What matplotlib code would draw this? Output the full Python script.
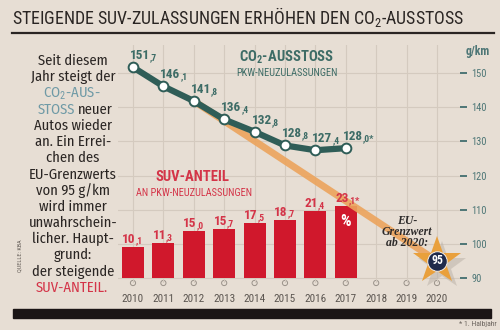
import matplotlib
matplotlib.use("Agg")
import matplotlib.pyplot as plt
from matplotlib import transforms
from matplotlib.lines import Line2D
from matplotlib.patches import Rectangle

# data
years = [2010, 2011, 2012, 2013, 2014, 2015, 2016, 2017]
co2 = [151.7, 146.1, 141.8, 136.4, 132.8, 128.8, 127.4, 128.0]
co2_labels = [("151", ",7"), ("146", ",1"), ("141", ",8"), ("136", ",4"),
              ("132", ",8"), ("128", ",8"), ("127", ",4"), ("128", ",0*")]
suv = [10.1, 11.3, 15.0, 15.7, 17.5, 18.7, 21.4, 23.1]
suv_labels = [("10", ",1"), ("11", ",3"), ("15", ",0"), ("15", ",7"),
              ("17", ",5"), ("18", ",7"), ("21", ",4"), ("23", ",1*")]
axis_years = list(range(2010, 2021))
target_years = [2012, 2020]
target_co2 = [141.8, 95]
eu_year, eu_limit = 2020, 95
gkm_ticks = [150, 140, 130, 120, 110, 100, 90]

left_lines = ["Seit diesem", "Jahr steigt der", "CO$_2$-AUS-", "STOSS neuer",
              "Autos wieder", "an. Ein Errei-", "chen des", "EU-Grenzwerts",
              "von 95 g/km", "wird immer", "unwahrschein-", "licher. Haupt-",
              "grund:", "der steigende", "SUV-ANTEIL."]

BG = "#e7ded4"
INK = "#2a2523"
GRID = "#d4cabf"
TEAL = "#2f5d57"
TEAL_TXT = "#3d6c66"
AXIS_TXT = "#4d7676"
BLUE_TXT = "#6f9aa6"
RED = "#d0182c"
RED_TXT = "#d43448"
ORANGE = "#eca45c"
STAR = "#e9a03c"
NAVY = "#1f2a4b"
COND = "Roboto Condensed"
BODY = "Fira Sans Condensed"

plt.rcParams["mathtext.fontset"] = "custom"
plt.rcParams["mathtext.rm"] = COND
plt.rcParams["mathtext.bf"] = COND + ":bold"
plt.rcParams["font.family"] = [COND, "DejaVu Sans"]

W, H = 500, 330
fig = plt.figure(figsize=(5, 3.3), dpi=100)
fig.patch.set_facecolor(BG)


def fx(x):
    return x / W


def fy(y):
    return 1 - y / H


rect = [fx(118), fy(283), (460 - 118) / W, (283 - 45) / H]
ax = fig.add_axes(rect, zorder=0)
ax.set_facecolor("none")
ax.set_xlim(2009.507, 2020.757)
ax.set_ylim(88.54, 158.2)
for s in ax.spines.values():
    s.set_visible(False)
ax.set_xticks(axis_years)
ax.set_xticklabels([str(y) for y in axis_years])
ax.set_yticks(gkm_ticks)
ax.yaxis.tick_right()
ax.grid(True, color=GRID, lw=0.8)
ax.tick_params(axis="x", length=0, pad=8, labelsize=8, labelcolor="#5b5550")
ax.tick_params(axis="y", length=5, width=1.4, color=AXIS_TXT, pad=3,
               labelsize=7.5, labelcolor=AXIS_TXT)
ax.scatter(axis_years, [0] * len(axis_years), transform=ax.get_xaxis_transform(),
           s=14, facecolor="none", edgecolor="#9a928a", lw=0.7, clip_on=False, zorder=1)

# SUV share bars on their own scale
axb = fig.add_axes(rect, sharex=ax, zorder=1)
axb.set_ylim(-1.6, 74.7)
axb.axis("off")
axb.bar(years, suv, width=0.72, color=RED)

# CO2 line and target path (top layer)
axl = fig.add_axes(rect, sharex=ax, sharey=ax, zorder=2)
axl.axis("off")


def split_label(x, y, coords, main, small, dx, dy, color, size, ha):
    t = axl.annotate(main, (x, y), xycoords=coords, xytext=(dx, dy),
                     textcoords="offset pixels", ha=ha, va="bottom",
                     fontsize=size, fontweight="bold", color=color, zorder=8)
    axl.annotate(small, (1, 0), xycoords=t, ha="left", va="bottom",
                 fontsize=size * 0.72, fontweight="bold", color=color, zorder=8)


axl.plot(target_years, target_co2, color=ORANGE, lw=5, alpha=0.9,
         solid_capstyle="butt", zorder=1)
axl.plot(years, co2, color=TEAL, lw=4.5, marker="o", ms=7, mfc="white",
         mec=TEAL, mew=1.4, zorder=3)
for yr, v, (m, s) in zip(years, co2, co2_labels):
    split_label(yr, v, "data", m, s, -3, 5, TEAL_TXT, 9.5, "left")
for yr, v, (m, s) in zip(years, suv, suv_labels):
    split_label(yr, v, axb.transData, m, s, -4, 1, RED_TXT, 9.5, "center")
axb.text(years[-1], suv[-1] * 0.78, "%", ha="center", va="center",
         color="white", fontsize=12, fontweight="bold")

shadow = transforms.offset_copy(axl.transData, fig=fig, x=5, y=-5, units="dots")
axl.plot([eu_year], [eu_limit], marker="*", ms=36, color="#b9b0a6", alpha=0.5,
         mew=0, transform=shadow, clip_on=False, zorder=4)
axl.plot([eu_year], [eu_limit], marker="*", ms=36, color=STAR, mew=0,
         clip_on=False, zorder=5)
axl.plot([eu_year], [eu_limit], marker="o", ms=14, color=NAVY, mec="white",
         mew=0.6, clip_on=False, zorder=6)
axl.text(eu_year, eu_limit, "95", ha="center", va="center", color="white",
         fontsize=8.5, fontweight="bold", zorder=7)

# headings and notes
fig.text(fx(12), fy(17), "STEIGENDE SUV-ZULASSUNGEN ERHÖHEN DEN CO$_2$-AUSSTOSS",
         ha="left", va="center", fontsize=12.9, color=INK)
fig.add_artist(Line2D([fx(12), fx(494)], [fy(33), fy(33)], color=INK, lw=1.6))

fig.text(fx(287), fy(57), r"CO$_\mathbf{2}$-AUSSTOSS", ha="center", va="center",
         fontsize=10.5, fontweight="bold", color=TEAL_TXT)
fig.text(fx(287), fy(73), "PKW-NEUZULASSUNGEN", ha="center", va="center",
         fontsize=7.5, color=TEAL_TXT)
fig.text(fx(193), fy(177), "SUV-ANTEIL", ha="center", va="center",
         fontsize=10.5, fontweight="bold", color=RED_TXT)
fig.text(fx(194), fy(193), "AN PKW-NEUZULASSUNGEN", ha="center", va="center",
         fontsize=7.5, color=RED_TXT)
fig.text(fx(478), fy(52), "g/km", ha="center", va="center", fontsize=8.5,
         fontweight="bold", color=AXIS_TXT)

for i, line in enumerate(["EU-", "Grenzwert", "ab 2020:"]):
    fig.text(fx(407), fy(221 + 11 * i), line, ha="center", va="center",
             fontsize=8.5, style="italic", fontweight="bold",
             family="Liberation Serif", color="#2c2a2a")

for i, line in enumerate(left_lines):
    y = fy(61 + 16.2 * i)
    if line.startswith("CO"):
        fig.text(fx(72), y, line, ha="center", va="center", fontsize=10.5,
                 color=BLUE_TXT, family=BODY)
    elif line.startswith("STOSS"):
        fig.text(fx(75), y, "STOSS", ha="right", va="center", fontsize=10.5,
                 color=BLUE_TXT, family=BODY)
        fig.text(fx(78), y, "neuer", ha="left", va="center", fontsize=10.5,
                 color=INK, family=BODY)
    elif line.startswith("SUV"):
        fig.text(fx(72), y, line, ha="center", va="center", fontsize=10.5,
                 color=RED_TXT, family=BODY)
    else:
        fig.text(fx(73), y, line, ha="center", va="center", fontsize=10.5,
                 color=INK, family=BODY)

fig.text(fx(20), fy(256), "QUELLE: KBA", rotation=90, ha="center", va="center",
         fontsize=4.5, color="#6b645e")
fig.add_artist(Rectangle((fx(13), fy(318)), fx(491) - fx(13), 9 / H,
                         transform=fig.transFigure, color="#1b1515"))
fig.text(fx(497), fy(324), "* 1. Halbjahr", ha="right", va="center",
         fontsize=5.5, color="#6b645e")

fig.savefig("out.png", dpi=100, facecolor=BG)
